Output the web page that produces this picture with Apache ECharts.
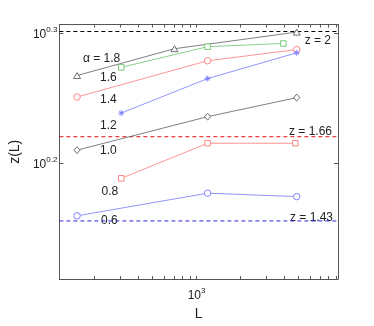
<!DOCTYPE html>
<html><head><meta charset="utf-8">
<script src="https://cdn.jsdelivr.net/npm/echarts@6/dist/echarts.min.js"></script>
<style>html,body{margin:0;padding:0;background:#fff}#c{width:374px;height:326px}</style>
</head><body><div id="c"></div>
<script>
// ---- data ----
const alphas = ['1.8', '1.6', '1.4', '1.2', '1.0', '0.8', '0.6'];
const L_18 = [152, 706, 4850];  const z_18 = [1.850, 1.940, 1.998];
const L_16 = [305, 1190, 3930]; const z_16 = [1.877, 1.947, 1.958];
const L_14 = [152, 1190, 4850]; const z_14 = [1.781, 1.899, 1.937];
const L_12 = [305, 1190, 4850]; const z_12 = [1.731, 1.840, 1.926];
const L_10 = [152, 1190, 4850]; const z_10 = [1.621, 1.720, 1.779];
const L_08 = [305, 1190, 4750]; const z_08 = [1.542, 1.641, 1.641];
const L_06 = [152, 1190, 4850]; const z_06 = [1.443, 1.502, 1.493];
const refZ = [2, 1.66, 1.43];
const refLabels = ['z = 2', 'z = 1.66', 'z = 1.43'];
const xRange = [115, 9300];
const yRange = [1.29, 2.025];
const xMinorTicks = [200,300,400,500,600,700,800,900,1000,2000,3000,4000,5000,6000,7000,8000,9000];
const xLabelTicks = [1000];
const yTicks = [Math.pow(10, 0.2), Math.pow(10, 0.3)];

// ---- styling ----
const Ls = [L_18, L_16, L_14, L_12, L_10, L_08, L_06];
const Zs = [z_18, z_16, z_14, z_12, z_10, z_08, z_06];
const colors = ['#606060', '#6cc46c', '#ff7878', '#7878ff', '#606060', '#ff7878', '#7878ff'];
const star = 'path://M5,0L5,10M0,5L10,5M1.5,1.5L8.5,8.5M1.5,8.5L8.5,1.5';
const symbols = ['triangle', 'rect', 'circle', star, 'diamond', 'rect', 'circle'];
const symSizes = [[7, 6], 5.5, 6.5, 6, [6, 7], 5.5, 6.5];
const refColors = ['#000000', '#e81010', '#2a2ae8'];

const axisLine = {show: true, lineStyle: {color: '#555', width: 1}};
const tickStyle = {lineStyle: {color: '#555', width: 1}};
const supRich = {
  b: {fontSize: 12, color: '#222', fontFamily: 'Liberation Sans', verticalAlign: 'bottom'},
  s: {fontSize: 8, color: '#222', fontFamily: 'Liberation Sans', verticalAlign: 'bottom', padding: [0, 0, 7, 0]}
};

const series = [];
refZ.forEach((v, i) => {
  series.push({
    type: 'line', silent: true, animation: false, symbol: 'none',
    data: [[xRange[0], v], [xRange[1], v]],
    color: refColors[i],
    lineStyle: {color: refColors[i], type: [4, 3], width: 1},
    z: 2
  });
});
alphas.forEach((a, i) => {
  series.push({
    type: 'line', name: a,
    data: Ls[i].map((l, j) => [l, Zs[i][j]]),
    symbol: symbols[i], symbolSize: symSizes[i],
    color: colors[i],
    lineStyle: {color: colors[i], width: 0.8},
    itemStyle: {color: i === 3 ? colors[i] : '#ffffff', borderColor: colors[i], borderWidth: 0.9},
    z: 3, animation: false
  });
});

const txt = (extra, text) => Object.assign({type: 'text', style: {text: text, fontSize: 12, fill: '#222', fontFamily: 'Liberation Sans'}}, extra);

const chart = echarts.init(document.getElementById('c'), null, {renderer: 'canvas'});
chart.setOption({
  backgroundColor: '#fff',
  animation: false,
  grid: {left: 48, right: 36, top: 24.5, bottom: 37, containLabel: false},
  xAxis: [{
    type: 'log', logBase: 10, min: xRange[0], max: xRange[1],
    name: 'L', nameLocation: 'middle', nameGap: 24,
    nameTextStyle: {fontSize: 14, color: '#222', fontFamily: 'Liberation Sans'},
    axisLine: axisLine,
    axisTick: Object.assign({show: true, inside: true, length: 3, customValues: xMinorTicks}, tickStyle),
    axisLabel: {show: true, customValues: xLabelTicks, margin: 8, rich: supRich,
      formatter: v => '{b|10}{s|' + Math.round(Math.log10(v)) + '}'},
    splitLine: {show: false}, minorTick: {show: false}
  }, {
    type: 'log', logBase: 10, min: xRange[0], max: xRange[1], position: 'top',
    axisLine: axisLine,
    axisTick: Object.assign({show: true, inside: true, length: 3, customValues: xMinorTicks}, tickStyle),
    axisLabel: {show: false}, splitLine: {show: false}
  }],
  yAxis: [{
    type: 'log', logBase: Math.pow(10, 0.1), min: yRange[0], max: yRange[1],
    name: 'z(L)', nameLocation: 'middle', nameGap: 30, nameRotate: 90,
    nameTextStyle: {fontSize: 14, color: '#222', fontFamily: 'Liberation Sans'},
    axisLine: axisLine,
    axisTick: Object.assign({show: true, inside: true, length: 4, customValues: yTicks}, tickStyle),
    axisLabel: {show: true, customValues: yTicks, margin: 2, rich: supRich,
      formatter: v => '{b|10}{s|' + Math.log10(v).toFixed(1) + '}'},
    splitLine: {show: false}
  }, {
    type: 'log', logBase: Math.pow(10, 0.1), min: yRange[0], max: yRange[1], position: 'right',
    axisLine: axisLine,
    axisTick: Object.assign({show: true, inside: true, length: 4, customValues: yTicks}, tickStyle),
    axisLabel: {show: false}, splitLine: {show: false}
  }],
  graphic: [
    txt({left: 83, top: 53}, 'α = 1.8'),
    txt({left: 100, top: 72}, '1.6'),
    txt({left: 100, top: 93.5}, '1.4'),
    txt({left: 100, top: 119.5}, '1.2'),
    txt({left: 100, top: 145}, '1.0'),
    txt({left: 101.5, top: 185.5}, '0.8'),
    txt({left: 101, top: 215}, '0.6'),
    txt({right: 43, top: 34.5}, refLabels[0]),
    txt({right: 42, top: 125.5}, refLabels[1]),
    txt({right: 41, top: 212}, refLabels[2])
  ],
  series: series
});
</script></body></html>
